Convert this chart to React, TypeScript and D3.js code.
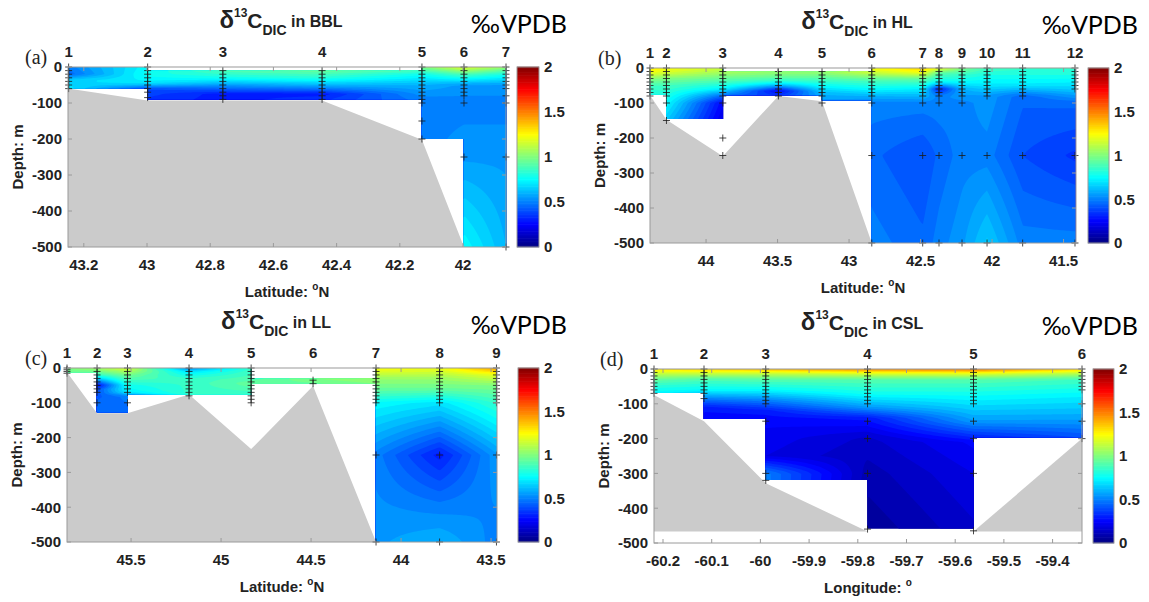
import React from 'react';
import * as d3 from 'd3';

// ---------------- Panel (a): BBL ----------------
const bblStationLat = [43.248, 42.998, 42.76, 42.446, 42.13, 41.997, 41.864];
const bblStationTop = [0, 0, 10, 10, 0, 0, 0];
const bblStationBottom = [60, 90, 90, 90, 200, 500, 500];
const bblSamples = [
  [0, 10, 20, 30, 40, 50, 60],
  [0, 10, 20, 30, 40, 50, 60, 70, 85],
  [10, 20, 30, 40, 50, 60, 70, 80, 90],
  [10, 20, 30, 40, 50, 60, 70, 80, 90],
  [0, 10, 20, 30, 40, 50, 60, 70, 80, 90, 100, 150, 200],
  [0, 10, 20, 30, 40, 50, 60, 70, 80, 100, 250],
  [0, 10, 20, 30, 40, 50, 60, 80, 100, 250, 500],
];
const bblProfiles: [number, number][][] = [
  [[0, 0.5], [20, 0.45], [35, 0.65], [60, 0.7]],
  [[0, 0.75], [20, 0.78], [45, 0.7], [60, 0.4], [90, 0.35]],
  [[10, 0.9], [30, 0.78], [55, 0.5], [75, 0.3], [90, 0.3]],
  [[10, 0.95], [30, 0.82], [55, 0.55], [75, 0.3], [90, 0.35]],
  [[0, 1.0], [20, 0.78], [50, 0.6], [90, 0.5], [150, 0.5], [200, 0.5]],
  [[0, 1.2], [20, 0.9], [50, 0.55], [100, 0.5], [250, 0.55], [500, 0.75]],
  [[0, 1.05], [20, 0.8], [50, 0.55], [100, 0.5], [250, 0.55], [500, 0.6]],
];
const bblBathy: [number, number][] = [
  [43.25, 60], [42.998, 93], [42.446, 93], [42.13, 202], [41.997, 500], [43.25, 500],
];
const bblTicks = [43.2, 43, 42.8, 42.6, 42.4, 42.2, 42];

// ---------------- Panel (b): HL ----------------
const hlStationLat = [44.392, 44.277, 43.883, 43.494, 43.189, 42.841, 42.485, 42.371, 42.21, 42.035, 41.786, 41.42];
const hlStationTop = [0, 0, 0, 10, 10, 0, 0, 0, 0, 0, 0, 0];
const hlStationBottom = [76, 146, 250, 78, 92, 500, 500, 500, 500, 500, 500, 500];
const hlSamples = [
  [0, 10, 20, 30, 40, 50, 60, 70, 80],
  [0, 10, 20, 30, 40, 50, 60, 70, 80, 100, 150],
  [0, 10, 20, 30, 40, 50, 60, 70, 80, 100, 200, 250],
  [10, 20, 30, 40, 50, 60, 70, 80],
  [10, 20, 30, 40, 50, 60, 70, 80, 100],
  [0, 10, 20, 30, 40, 50, 60, 70, 80, 100, 250, 500],
  [0, 10, 20, 30, 40, 50, 60, 70, 80, 100, 250, 500],
  [0, 10, 20, 30, 40, 50, 60, 70, 80, 100, 250, 500],
  [0, 10, 20, 30, 40, 50, 60, 70, 80, 100, 250, 500],
  [0, 10, 20, 30, 40, 50, 60, 70, 80, 250, 500],
  [0, 10, 20, 30, 40, 50, 60, 70, 80, 250, 500],
  [0, 10, 20, 30, 40, 50, 60, 250, 500],
];
const hlProfiles: [number, number][][] = [
  [[0, 1.3], [15, 1.2], [30, 1.02], [50, 0.88], [76, 0.8]],
  [[0, 1.25], [15, 1.15], [30, 1.0], [50, 0.88], [80, 0.8], [100, 0.75], [146, 0.65]],
  [[0, 1.15], [20, 1.02], [40, 0.88], [60, 0.72], [80, 0.45], [100, 0.25], [146, 0.2]],
  [[10, 1.05], [25, 0.95], [40, 0.8], [52, 0.55], [65, 0.25], [78, 0.35]],
  [[10, 1.05], [25, 0.95], [45, 0.8], [70, 0.62], [92, 0.55]],
  [[0, 1.25], [15, 1.12], [35, 0.9], [60, 0.75], [80, 0.6], [100, 0.5], [250, 0.45], [500, 0.5]],
  [[0, 1.35], [15, 1.2], [30, 0.95], [60, 0.72], [100, 0.5], [250, 0.4], [500, 0.45]],
  [[0, 1.25], [12, 0.95], [40, 0.75], [60, 0.3], [80, 0.5], [100, 0.5], [250, 0.45], [500, 0.5]],
  [[0, 1.0], [20, 0.85], [40, 0.75], [60, 0.6], [100, 0.5], [250, 0.5], [500, 0.55]],
  [[0, 0.88], [20, 0.8], [50, 0.7], [80, 0.55], [250, 0.5], [500, 0.65]],
  [[0, 0.85], [20, 0.8], [50, 0.7], [80, 0.45], [250, 0.4], [500, 0.5]],
  [[0, 0.85], [20, 0.8], [60, 0.65], [100, 0.45], [250, 0.35], [500, 0.5]],
];
const hlBathy: [number, number][] = [
  [44.392, 78], [44.277, 148], [43.883, 252], [43.494, 80], [43.189, 95], [42.841, 500], [44.392, 500],
];
const hlTicks = [44, 43.5, 43, 42.5, 42, 41.5];

// ---------------- Panel (c): LL ----------------
const llStationLat = [45.856, 45.689, 45.52, 45.178, 44.833, 44.489, 44.139, 43.786, 43.47];
const llStationTop = [0, 0, 0, 0, 0, 30, 0, 0, 0];
const llStationBottom = [14, 128, 128, 76, 232, 45, 500, 500, 500];
const llSamples = [
  [0, 5, 10, 15],
  [0, 10, 20, 30, 40, 50, 60, 70, 100],
  [0, 10, 20, 30, 40, 50, 60, 70, 100],
  [0, 10, 20, 30, 40, 50, 60, 70, 80],
  [0, 10, 20, 30, 40, 50, 60, 70, 80, 90, 100],
  [35, 45],
  [0, 10, 20, 30, 40, 50, 60, 70, 80, 90, 100, 250, 500],
  [0, 10, 20, 30, 40, 50, 60, 70, 80, 90, 100, 250, 500],
  [0, 10, 20, 30, 40, 50, 60, 70, 80, 90, 100, 250, 500],
];
const llProfiles: [number, number][][] = [
  [[0, 1.0], [14, 0.95]],
  [[0, 1.08], [20, 0.85], [40, 0.45], [50, 0.25], [60, 0.4], [100, 0.45], [128, 0.45]],
  [[0, 1.18], [20, 0.98], [50, 0.78], [70, 0.72], [80, 0.5], [128, 0.45]],
  [[0, 0.5], [10, 0.7], [30, 0.85], [76, 0.85]],
  [[0, 0.85], [30, 0.9], [45, 0.95], [76, 0.85]],
  [[30, 1.0], [45, 0.95]],
  [[0, 1.25], [30, 1.05], [60, 0.95], [100, 0.75], [250, 0.5], [500, 0.55]],
  [[0, 1.22], [30, 1.05], [60, 0.95], [100, 0.7], [250, 0.3], [400, 0.5], [500, 0.6]],
  [[0, 1.45], [20, 1.2], [50, 1.0], [100, 0.85], [250, 0.55], [500, 0.5]],
];
const llBathy: [number, number][] = [
  [45.856, 12], [45.689, 130], [45.52, 130], [45.178, 76], [44.833, 233], [44.489, 52], [44.139, 500], [45.856, 500],
];
const llTicks = [45.5, 45, 44.5, 44, 43.5];

// ---------------- Panel (d): CSL ----------------
const cslStationLon = [-60.2185, -60.1158, -59.989, -59.78, -59.5624, -59.3396];
const cslStationTop = [0, 0, 0, 0, 0, 0];
const cslStationBottom = [68, 144, 319, 458, 465, 197];
const cslSamples = [
  [0, 10, 20, 30, 40, 50, 60, 70],
  [0, 10, 20, 30, 40, 50, 60, 70, 85],
  [0, 10, 20, 30, 40, 50, 60, 70, 80, 90, 100, 150, 300, 320],
  [0, 10, 20, 30, 40, 50, 60, 70, 80, 90, 100, 150, 200, 300, 460],
  [0, 10, 20, 30, 40, 50, 60, 70, 80, 90, 100, 150, 200, 300, 465],
  [0, 10, 20, 30, 40, 50, 60, 100, 150, 200],
];
const cslProfiles: [number, number][][] = [
  [[0, 1.3], [12, 1.15], [30, 0.95], [50, 0.82], [68, 0.75]],
  [[0, 1.35], [12, 1.15], [30, 0.9], [60, 0.75], [85, 0.5], [110, 0.3], [144, 0.25]],
  [[0, 1.4], [12, 1.15], [30, 0.92], [60, 0.75], [90, 0.5], [120, 0.3], [150, 0.25], [250, 0.2], [300, 0.5], [319, 0.5]],
  [[0, 1.5], [12, 1.2], [30, 0.92], [70, 0.78], [110, 0.55], [140, 0.3], [200, 0.15], [300, 0.1], [458, 0.05]],
  [[0, 1.55], [12, 1.22], [30, 0.92], [80, 0.75], [150, 0.55], [190, 0.35], [210, 0.25], [300, 0.2], [465, 0.15]],
  [[0, 1.35], [12, 1.12], [30, 0.88], [80, 0.72], [150, 0.55], [197, 0.4]],
];
const cslBathyWest: [number, number][] = [
  [-60.2185, 75], [-60.1158, 150], [-59.989, 328], [-59.78, 467], [-60.2185, 467],
];
const cslBathyEast: [number, number][] = [
  [-59.5624, 467], [-59.3396, 200], [-59.3396, 467],
];
const cslTicks = [-60.2, -60.1, -60, -59.9, -59.8, -59.7, -59.6, -59.5, -59.4];

const depthTicks = [0, -100, -200, -300, -400, -500];
const cbTicks = [0, 0.5, 1, 1.5, 2];
const levels = d3.range(0, 2.0001, 0.04);

// layout table
const panels = [
  { tag: '(a)', name: 'BBL', domain: [43.25, 41.864], stations: bblStationLat, tops: bblStationTop, bottoms: bblStationBottom, samples: bblSamples, profiles: bblProfiles, bathy: [bblBathy], ticks: bblTicks, xName: 'Latitude: ', xUnit: 'N',
    left: 68, top: 67, width: 438, height: 180, cbLeft: 517, cbWidth: 22, tagX: 25, unitRight: 567 },
  { tag: '(b)', name: 'HL', domain: [44.392, 41.413], stations: hlStationLat, tops: hlStationTop, bottoms: hlStationBottom, samples: hlSamples, profiles: hlProfiles, bathy: [hlBathy], ticks: hlTicks, xName: 'Latitude: ', xUnit: 'N',
    left: 650, top: 68, width: 426, height: 175, cbLeft: 1088, cbWidth: 21, tagX: 598, unitRight: 1138 },
  { tag: '(c)', name: 'LL', domain: [45.856, 43.467], stations: llStationLat, tops: llStationTop, bottoms: llStationBottom, samples: llSamples, profiles: llProfiles, bathy: [llBathy], ticks: llTicks, xName: 'Latitude: ', xUnit: 'N',
    left: 67, top: 368, width: 430, height: 174, cbLeft: 518, cbWidth: 21, tagX: 25, unitRight: 567 },
  { tag: '(d)', name: 'CSL', domain: [-60.2185, -59.3396], stations: cslStationLon, tops: cslStationTop, bottoms: cslStationBottom, samples: cslSamples, profiles: cslProfiles, bathy: [cslBathyWest, cslBathyEast], ticks: cslTicks, xName: 'Longitude: ', xUnit: '',
    left: 654, top: 369, width: 428, height: 174, cbLeft: 1093, cbWidth: 21, tagX: 600, unitRight: 1138 },
];

const FONT = 'Liberation Sans, Arial, Helvetica, sans-serif';
const TXT = '#222';
const BOX = '#9a9a9a';

function jet(v: number) {
  const t = Math.max(0, Math.min(1, v / 2));
  const c = (q: number) => Math.round(255 * Math.max(0, Math.min(1, q)));
  return `rgb(${c(1.5 - Math.abs(4 * t - 3))},${c(1.5 - Math.abs(4 * t - 2))},${c(1.5 - Math.abs(4 * t - 1))})`;
}

function profileAt(p: [number, number][], d: number) {
  if (d <= p[0][0]) return p[0][1];
  for (let k = 1; k < p.length; k++) {
    if (d <= p[k][0]) {
      const [d0, v0] = p[k - 1];
      const [d1, v1] = p[k];
      return v0 + ((v1 - v0) * (d - d0)) / (d1 - d0);
    }
  }
  return p[p.length - 1][1];
}

function fmt(v: number) {
  return String(v);
}

function Panel({ p, idx }: { p: any; idx: number }) {
  const x = d3.scaleLinear().domain(p.domain).range([p.left, p.left + p.width]);
  const y = d3.scaleLinear().domain([0, -500]).range([p.top, p.top + p.height]);
  const right = p.left + p.width;
  const bottom = p.top + p.height;
  const sx: number[] = p.stations.map((s: number) => x(s));
  const n = sx.length;

  const cell = 2;
  const nx = Math.ceil(p.width / cell) + 3;
  const ny = Math.ceil(p.height / cell) + 3;
  const values = new Array(nx * ny);
  for (let j = 0; j < ny; j++) {
    const py = p.top + (j - 0.5) * cell;
    const d = -y.invert(py);
    for (let i = 0; i < nx; i++) {
      const px = p.left + (i - 0.5) * cell;
      let k = 0;
      let t = 0;
      if (px <= sx[0]) { k = 0; t = 0; }
      else if (px >= sx[n - 1]) { k = n - 2; t = 1; }
      else {
        while (k < n - 2 && px > sx[k + 1]) k++;
        t = (px - sx[k]) / (sx[k + 1] - sx[k]);
      }
      const v0 = profileAt(p.profiles[k], d);
      const v1 = profileAt(p.profiles[k + 1], d);
      values[j * nx + i] = v0 + (v1 - v0) * t;
    }
  }
  const contours = d3.contours().size([nx, ny]).thresholds(levels)(values);
  const path = d3.geoPath(d3.geoIdentity().scale(cell).translate([p.left - cell, p.top - cell]));

  const clipId = `clip-${idx}`;
  const rects = d3.range(n - 1).map((k) => {
    const tp = Math.max(p.tops[k], p.tops[k + 1]);
    const bt = Math.min(p.bottoms[k], p.bottoms[k + 1]);
    return { x: sx[k], w: sx[k + 1] - sx[k], y0: y(-tp), y1: y(-bt) };
  });

  const line = d3.line();
  const bathyPaths = p.bathy.map((pts: [number, number][]) => line(pts.map(([a, d]) => [x(a), y(-d)]))! + 'Z');

  let cross = '';
  p.samples.forEach((arr: number[], k: number) => {
    arr.forEach((d) => {
      const cx = sx[k];
      const cy = y(-d);
      cross += `M${cx - 3.5},${cy}h7M${cx},${cy - 3.5}v7`;
    });
  });

  const cb = d3.scaleLinear().domain([0, 2]).range([bottom, p.top]);
  const cbSteps = d3.range(0, 2, 2 / 128);
  const titleY = p.top - 39;
  const cxMid = p.left + p.width / 2;

  return (
    <g>
      <defs>
        <clipPath id={clipId}>
          {rects.map((r, i) => (
            <rect key={i} x={r.x - 0.3} y={r.y0} width={r.w + 0.6} height={r.y1 - r.y0} />
          ))}
        </clipPath>
        <clipPath id={`box-${idx}`}>
          <rect x={p.left} y={p.top} width={p.width} height={p.height} />
        </clipPath>
      </defs>
      <rect x={p.left} y={p.top} width={p.width} height={p.height} fill="#fff" />
      <g clipPath={`url(#${clipId})`}>
        {contours.map((c, i) => (
          <path key={i} d={path(c as any) || ''} fill={jet(c.value + 0.02)} stroke="none" />
        ))}
      </g>
      <g clipPath={`url(#box-${idx})`}>
        {bathyPaths.map((d: string, i: number) => (
          <path key={i} d={d} fill="#cbcbcb" stroke="none" />
        ))}
      </g>
      <path d={cross} stroke="#1a1a1a" strokeWidth={0.8} fill="none" />
      <rect x={p.left} y={p.top} width={p.width} height={p.height} fill="none" stroke={BOX} strokeWidth={1} />
      {p.ticks.map((t: number) => (
        <g key={t}>
          <line x1={x(t)} x2={x(t)} y1={bottom} y2={bottom - 4} stroke={BOX} />
          <line x1={x(t)} x2={x(t)} y1={p.top} y2={p.top + 4} stroke={BOX} />
          <text x={x(t)} y={bottom + 23} textAnchor="middle" fontFamily={FONT} fontWeight="bold" fontSize={15} fill={TXT}>
            {fmt(t)}
          </text>
        </g>
      ))}
      {depthTicks.map((t) => (
        <g key={t}>
          <line x1={p.left} x2={p.left + 4} y1={y(t)} y2={y(t)} stroke={BOX} />
          <line x1={right} x2={right - 4} y1={y(t)} y2={y(t)} stroke={BOX} />
          <text x={p.left - 6} y={y(t)} dy="0.36em" textAnchor="end" fontFamily={FONT} fontWeight="bold" fontSize={15} fill={TXT}>
            {fmt(t)}
          </text>
        </g>
      ))}
      {sx.map((s, k) => (
        <text key={k} x={s} y={p.top - 10} textAnchor="middle" fontFamily={FONT} fontWeight="bold" fontSize={15} fill={TXT}>
          {k + 1}
        </text>
      ))}
      <text x={cxMid} y={bottom + 50} textAnchor="middle" fontFamily={FONT} fontWeight="bold" fontSize={15} fill={TXT}>
        <tspan>{p.xName}</tspan>
        <tspan fontSize={10} dy={-7}>o</tspan>
        {p.xUnit ? <tspan dy={7}>{p.xUnit}</tspan> : null}
      </text>
      <text transform={`translate(${p.left - 50},${p.top + p.height / 2}) rotate(-90)`} dy="0.36em" textAnchor="middle" fontFamily={FONT} fontWeight="bold" fontSize={15} fill={TXT}>
        Depth: m
      </text>
      <text x={cxMid - 6} y={titleY} textAnchor="middle" fontFamily={FONT} fontWeight="bold" fill={TXT}>
        <tspan fontSize={24}>δ</tspan>
        <tspan fontSize={12} dy={-11}>13</tspan>
        <tspan fontSize={21} dy={11}>C</tspan>
        <tspan fontSize={14} dy={7}>DIC</tspan>
        <tspan fontSize={16} dy={-8}>{' in ' + p.name}</tspan>
      </text>
      <text x={p.unitRight} y={p.top - 34} textAnchor="end" fontFamily="Lato, Open Sans, sans-serif" fontSize={25} fill="#000">
        ‰VPDB
      </text>
      <text x={p.tagX} y={p.top - 3} fontFamily="Liberation Serif, Times New Roman, serif" fontSize={20} fill={TXT}>
        {p.tag}
      </text>
      {cbSteps.map((v, i) => (
        <rect key={i} x={p.cbLeft} y={cb(v + 2 / 128) - 0.3} width={p.cbWidth} height={cb(v) - cb(v + 2 / 128) + 0.6} fill={jet(v + 1 / 128)} />
      ))}
      <rect x={p.cbLeft} y={p.top} width={p.cbWidth} height={p.height} fill="none" stroke={BOX} />
      {cbTicks.map((t) => (
        <text key={t} x={p.cbLeft + p.cbWidth + 5} y={cb(t)} dy="0.36em" fontFamily={FONT} fontWeight="bold" fontSize={15} fill={TXT}>
          {fmt(t)}
        </text>
      ))}
    </g>
  );
}

export default function App() {
  return (
    <svg width={1149} height={602} style={{ position: 'absolute', left: 0, top: 0, background: '#fff' }}>
      <rect width={1149} height={602} fill="#fff" />
      {panels.map((p, i) => (
        <Panel key={i} p={p} idx={i} />
      ))}
    </svg>
  );
}
